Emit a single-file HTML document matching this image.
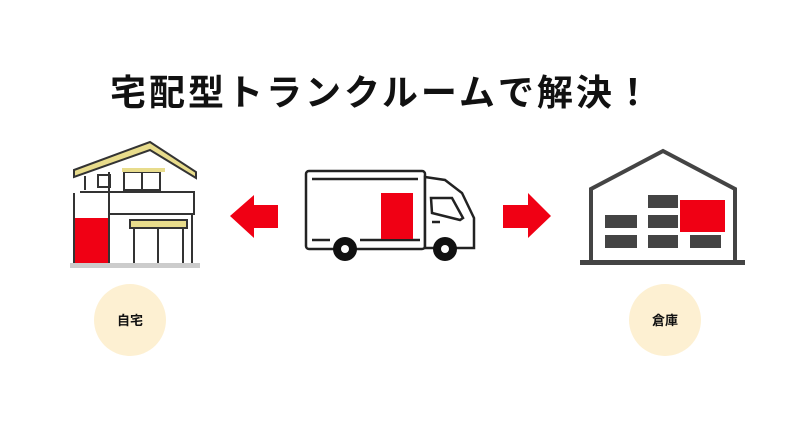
<!DOCTYPE html>
<html><head><meta charset="utf-8"><style>
body{margin:0;background:#fff;width:810px;height:423px;overflow:hidden;position:relative;font-family:"Liberation Sans","Noto Sans CJK JP",sans-serif}
.t{position:absolute;left:110px;top:64px;font-size:36px;font-weight:bold;letter-spacing:3px;color:#111;white-space:nowrap}
</style></head><body>
<div class="t">宅配型トランクルームで解決！</div>
<svg width="810" height="423" style="position:absolute;left:0;top:0">
<!-- house -->
<g stroke="#333" stroke-width="2" fill="none">
<polygon points="74,170 150,142 196,172 196,178 150,150 74,177" fill="#e8dc8c"/>
<line x1="85" y1="176" x2="85" y2="190"/><line x1="109" y1="172" x2="109" y2="265"/>
<rect x="98" y="175" width="12" height="12"/>
<rect x="124" y="172" width="36" height="18"/><line x1="142" y1="172" x2="142" y2="190"/>
<line x1="122" y1="170" x2="165" y2="170" stroke="#e8dc8c" stroke-width="4"/>
<line x1="80" y1="192" x2="194" y2="192"/>
<rect x="109" y="192" width="85" height="22"/>
<line x1="74" y1="193" x2="74" y2="265"/>
<rect x="130" y="220" width="57" height="8" fill="#e8dc8c"/>
<line x1="134" y1="228" x2="134" y2="263"/><line x1="158" y1="228" x2="158" y2="263"/><line x1="183" y1="228" x2="183" y2="263"/>
<line x1="192" y1="214" x2="192" y2="263"/>
</g>
<rect x="75" y="218" width="33" height="45" fill="#f00014"/>
<rect x="70" y="263" width="130" height="5" fill="#ccc"/>
<!-- arrows -->
<polygon points="278,205 254,205 254,195 230,216 254,238 254,228 278,228" fill="#f00014"/>
<polygon points="503,205 528,205 528,193 551,216 528,238 528,228 503,228" fill="#f00014"/>
<!-- truck -->
<g stroke="#222" stroke-width="2.5" fill="#fff">
<rect x="306" y="171" width="119" height="78" rx="3"/>
<path d="M425,177 L445,180 L462,193 L474,218 L474,248 L425,248 Z"/>
<path d="M431,198 L452,198 L463,218 L460,220 L432,213 Z"/>
</g>
<g stroke="#222" stroke-width="2.5">
<line x1="312" y1="179" x2="418" y2="179"/><line x1="312" y1="240" x2="330" y2="240"/><line x1="360" y1="240" x2="420" y2="240"/>
<line x1="432" y1="222" x2="440" y2="222"/>
</g>
<rect x="381" y="193" width="32" height="46" fill="#f00014"/>
<circle cx="345" cy="249" r="12" fill="#111"/><circle cx="345" cy="249" r="4" fill="#fff"/>
<circle cx="445" cy="249" r="12" fill="#111"/><circle cx="445" cy="249" r="4" fill="#fff"/>
<!-- warehouse -->
<g fill="#444">
<polyline points="591,262 591,189 663,151 735,189 735,262" fill="none" stroke="#444" stroke-width="4"/>
<rect x="580" y="260" width="165" height="5"/>
<rect x="648" y="195" width="30" height="13"/>
<rect x="605" y="215" width="32" height="13"/><rect x="648" y="215" width="30" height="13"/>
<rect x="605" y="235" width="32" height="13"/><rect x="648" y="235" width="30" height="13"/><rect x="690" y="235" width="31" height="13"/>
</g>
<rect x="680" y="200" width="45" height="32" fill="#f00014"/>
<circle cx="130" cy="320" r="36" fill="#fdf0d2"/>
<circle cx="665" cy="320" r="36" fill="#fdf0d2"/>
<text x="130" y="325" font-size="13" font-weight="bold" text-anchor="middle" fill="#111" font-family="Liberation Sans, Noto Sans CJK JP, sans-serif">自宅</text>
<text x="665" y="325" font-size="13" font-weight="bold" text-anchor="middle" fill="#111" font-family="Liberation Sans, Noto Sans CJK JP, sans-serif">倉庫</text>
</svg>
</body></html>
